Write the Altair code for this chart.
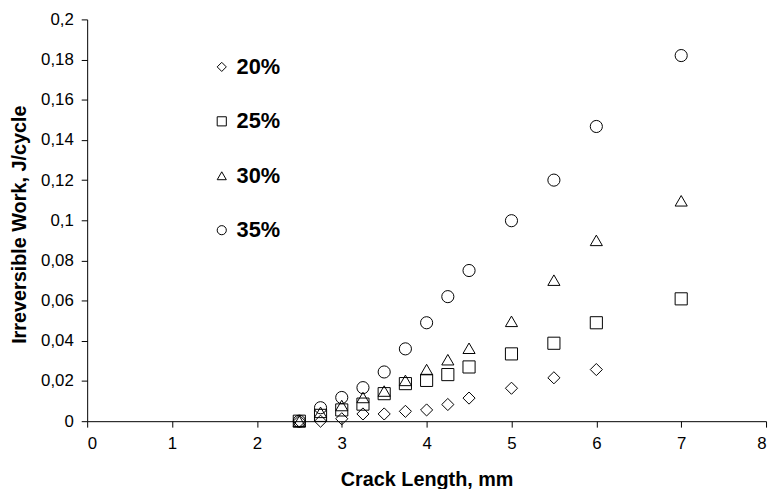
import altair as alt
import pandas as pd

# Crack length (mm)
crack = [2.5, 2.75, 3.0, 3.25, 3.5, 3.75, 4.0, 4.25, 4.5, 5.0, 5.5, 6.0, 7.0]

# Irreversible work (J/cycle) per load level
w20 = [0.0, 0.0, 0.0012, 0.0036, 0.0036, 0.0049, 0.0056, 0.0083, 0.0115, 0.0164, 0.0216, 0.0257]
w25 = [0.0, 0.0029, 0.0056, 0.0085, 0.0137, 0.0187, 0.0203, 0.0232, 0.027, 0.0335, 0.0388, 0.049, 0.0609]
w30 = [0.0, 0.0044, 0.0078, 0.0118, 0.015, 0.0203, 0.0257, 0.0306, 0.0363, 0.0497, 0.0702, 0.090, 0.1097]
w35 = [0.0, 0.0067, 0.0118, 0.0167, 0.0245, 0.036, 0.049, 0.062, 0.075, 0.0998, 0.12, 0.1467, 0.182]

series = ["20%", "25%", "30%", "35%"]
shapes = ["diamond", "square", "triangle-up", "circle"]

x_ticks = [0, 1, 2, 3, 4, 5, 6, 7, 8]
y_ticks = [0, 0.02, 0.04, 0.06, 0.08, 0.1, 0.12, 0.14, 0.16, 0.18, 0.2]

rows = []
for name, vals in zip(series, [w20, w25, w30, w35]):
    for xv, yv in zip(crack, vals):
        rows.append({"crack": xv, "work": yv, "load": name})
df = pd.DataFrame(rows)

FONT = "Liberation Sans, Arial, sans-serif"

chart = alt.Chart(df).mark_point(
    filled=False, color="black", strokeWidth=1, size=150, opacity=1
).encode(
    x=alt.X(
        "crack:Q",
        scale=alt.Scale(domain=[0, 8], nice=False),
        axis=alt.Axis(
            values=x_ticks,
            title="Crack Length, mm",
            titleFontSize=20,
            titleFontWeight="bold",
            titleX=343,
            titleY=59,
            titleBaseline="middle",
            tickSize=6,
            labelPadding=9,
            labelFontSize=17,
        ),
    ),
    y=alt.Y(
        "work:Q",
        scale=alt.Scale(domain=[0, 0.2], nice=False),
        axis=alt.Axis(
            values=y_ticks,
            labelExpr="replace(format(datum.value, '.2~f'), '.', ',')",
            title="Irreversible Work, J/cycle",
            titleFontSize=20,
            titleFontWeight="bold",
            titleAngle=270,
            titleX=-68,
            titleY=207,
            titleBaseline="middle",
            titleAlign="center",
            tickSize=6,
            labelPadding=8,
            labelFontSize=17,
        ),
    ),
    shape=alt.Shape(
        "load:N",
        scale=alt.Scale(domain=series, range=shapes),
        legend=alt.Legend(
            title=None,
            orient="none",
            legendX=125,
            legendY=37,
            padding=0,
            symbolSize=85,
            symbolStrokeColor="black",
            symbolStrokeWidth=1,
            symbolFillColor="transparent",
            labelFontSize=22,
            labelFontWeight="bold",
            labelFont=FONT,
            labelColor="black",
            labelOffset=4,
            rowPadding=33,
        ),
    ),
).properties(
    width=686,
    height=406,
    autosize=alt.AutoSizeParams(type="none"),
    padding={"left": 80, "top": 9, "right": 5, "bottom": 66},
).configure_view(
    strokeWidth=0
).configure_axis(
    grid=False,
    domainColor="black",
    tickColor="black",
    labelColor="black",
    titleColor="black",
    labelFont=FONT,
    titleFont=FONT,
    domainWidth=1,
    tickWidth=1,
)

chart.save("out.html", embed_options={"renderer": "svg", "actions": False})
